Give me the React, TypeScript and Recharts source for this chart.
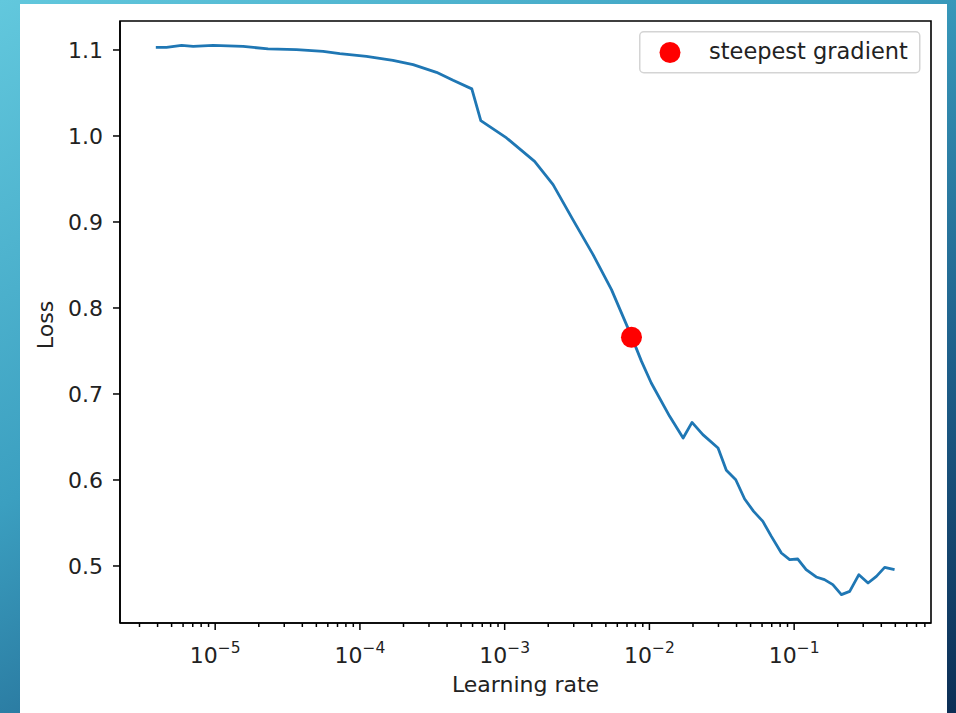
import {
  ComposedChart,
  Line,
  Scatter,
  XAxis,
  YAxis,
  Legend,
  ReferenceArea,
} from "recharts"

// learning-rate finder curve
const lrValues = [
  3.89e-6, 4.61e-6, 5.86e-6, 7.05e-6, 9.68e-6, 1.56e-5, 2.32e-5, 3.65e-5, 5.57e-5, 7.26e-5,
  1.11e-4, 1.69e-4, 2.33e-4, 3.38e-4, 4.4e-4, 5.93e-4, 6.84e-4, 1.03e-3, 1.61e-3, 2.16e-3,
  2.96e-3, 4.08e-3, 5.47e-3, 7.52e-3, 8.82e-3, 1.03e-2, 1.38e-2, 1.71e-2, 1.97e-2, 2.34e-2,
  2.98e-2, 3.4e-2, 3.95e-2, 4.55e-2, 5.25e-2, 6.08e-2, 6.96e-2, 8.16e-2, 9.31e-2, 0.106,
  0.121, 0.142, 0.162, 0.185, 0.212, 0.242, 0.28, 0.324, 0.37, 0.422, 0.494,
]

const lossValues = [
  1.103, 1.103, 1.1053, 1.1042, 1.1053, 1.1042, 1.1012, 1.1003, 1.0984, 1.0957,
  1.0926, 1.0879, 1.0829, 1.074, 1.0647, 1.0548, 1.0178, 0.9977, 0.9705, 0.9434,
  0.9027, 0.862, 0.8213, 0.767, 0.7379, 0.7128, 0.674, 0.6488, 0.667, 0.6527,
  0.6372, 0.6112, 0.6003, 0.5779, 0.5635, 0.5519, 0.5344, 0.5151, 0.5073, 0.5081,
  0.4957, 0.4872, 0.4841, 0.4783, 0.4667, 0.4705, 0.4899, 0.4802, 0.4879, 0.4984, 0.4957,
]

const steepestLr = [7.52e-3]
const steepestLoss = [0.766]

const majorXTicks = [1e-5, 1e-4, 1e-3, 1e-2, 1e-1]
const minorMultipliers = [2, 3, 4, 5, 6, 7, 8, 9]
const decades = [1e-6, 1e-5, 1e-4, 1e-3, 1e-2, 1e-1]
const yTicks = [0.5, 0.6, 0.7, 0.8, 0.9, 1.0, 1.1]

const X_DOMAIN: [number, number] = [2.2e-6, 0.882]
const Y_DOMAIN: [number, number] = [0.4337, 1.1337]

const lossData = lrValues.map((lr, i) => ({ lr, loss: lossValues[i] }))
const steepestData = steepestLr.map((lr, i) => ({ lr, loss: steepestLoss[i] }))

const minorXTicks = decades
  .flatMap((d) => minorMultipliers.map((m) => d * m))
  .filter((v) => v > X_DOMAIN[0] && v < X_DOMAIN[1])
const allXTicks = [...minorXTicks, ...majorXTicks].sort((a, b) => a - b)

const FONT = "'DejaVu Sans', sans-serif"
const TEXT = "#222"

function LogTick(props: any) {
  const { x, y, payload } = props
  const v = payload.value
  const major = majorXTicks.includes(v)
  const exp = Math.round(Math.log10(v))
  return (
    <g>
      <line x1={x} x2={x} y1={y} y2={y + (major ? 7 : 4)} stroke="#000" strokeWidth={1.5} />
      {major && (
        <text x={x} y={y + 40} textAnchor="middle" fontFamily={FONT} fontSize={22} fill={TEXT}>
          10
          <tspan dy={-10} fontSize={15.5}>
            {"\u2212" + Math.abs(exp)}
          </tspan>
        </text>
      )}
    </g>
  )
}

function XTitle({ viewBox }: any) {
  return (
    <text
      x={viewBox.x + viewBox.width / 2}
      y={viewBox.y + 69}
      textAnchor="middle"
      fontFamily={FONT}
      fontSize={22}
      fill={TEXT}
    >
      Learning rate
    </text>
  )
}

function YTitle({ viewBox }: any) {
  const cx = 53
  const cy = viewBox.y + viewBox.height / 2 + 3
  return (
    <text
      x={cx}
      y={cy}
      transform={`rotate(-90 ${cx} ${cy})`}
      textAnchor="middle"
      fontFamily={FONT}
      fontSize={22}
      fill={TEXT}
    >
      Loss
    </text>
  )
}

function LegendBox() {
  return (
    <svg width={282} height={43} style={{ display: "block" }}>
      <rect x={0.75} y={0.75} width={280} height={41} rx={4} fill="#fff" stroke="#d4d4d4" strokeWidth={1.5} />
      <circle cx={31} cy={21.5} r={10.5} fill="#ff0000" />
      <text x={70} y={28} fontFamily={FONT} fontSize={22.5} fill={TEXT}>
        steepest gradient
      </text>
    </svg>
  )
}

export default function App() {
  return (
    <div
      style={{
        position: "relative",
        width: 956,
        height: 713,
        overflow: "hidden",
        background: "linear-gradient(150deg, #62c8dd 0%, #3b9fc0 40%, #1e5f8a 72%, #0c2e55 100%)",
      }}
    >
      <style>{"body{margin:0}"}</style>
      <div
        style={{
          position: "absolute",
          left: 20,
          top: 4,
          width: 927,
          height: 709,
          background: "#fff",
        }}
      />
      <div style={{ position: "absolute", left: 0, top: 0 }}>
        <ComposedChart
          width={956}
          height={713}
          margin={{ top: 21, right: 25, left: 40, bottom: 30 }}
        >
          <XAxis
            dataKey="lr"
            type="number"
            scale="log"
            domain={X_DOMAIN}
            allowDataOverflow
            ticks={allXTicks}
            interval={0}
            tick={<LogTick />}
            tickSize={0}
            tickMargin={0}
            tickLine={false}
            axisLine={{ stroke: "#000", strokeWidth: 1.6 }}
            height={60}
            label={<XTitle />}
          />
          <YAxis
            type="number"
            domain={Y_DOMAIN}
            allowDataOverflow
            ticks={yTicks}
            interval={0}
            tickFormatter={(v: number) => v.toFixed(1)}
            tick={{ fontFamily: FONT, fontSize: 22, fill: TEXT }}
            tickSize={7}
            tickMargin={10}
            tickLine={{ stroke: "#000", strokeWidth: 1.5 }}
            axisLine={{ stroke: "#000", strokeWidth: 1.6 }}
            width={80}
            label={<YTitle />}
          />
          <Legend
            layout="horizontal"
            verticalAlign="middle"
            align="center"
            content={<LegendBox />}
            wrapperStyle={{ position: "absolute", top: 31, left: 639, width: 282, height: 43 }}
          />
          <Line
            data={lossData}
            dataKey="loss"
            type="linear"
            stroke="#1f77b4"
            strokeWidth={2.8}
            strokeLinejoin="round"
            dot={false}
            activeDot={false}
            legendType="none"
            isAnimationActive={false}
          />
          <Scatter
            data={steepestData}
            dataKey="loss"
            name="steepest gradient"
            fill="#ff0000"
            shape={(p: any) => <circle cx={p.cx} cy={p.cy} r={10.5} fill="#ff0000" />}
            isAnimationActive={false}
          />
          <ReferenceArea
            x1={X_DOMAIN[0]}
            x2={X_DOMAIN[1]}
            y1={Y_DOMAIN[0]}
            y2={Y_DOMAIN[1]}
            fill="none"
            fillOpacity={0}
            stroke="#000"
            strokeWidth={1.6}
            ifOverflow="visible"
          />
        </ComposedChart>
      </div>
    </div>
  )
}
